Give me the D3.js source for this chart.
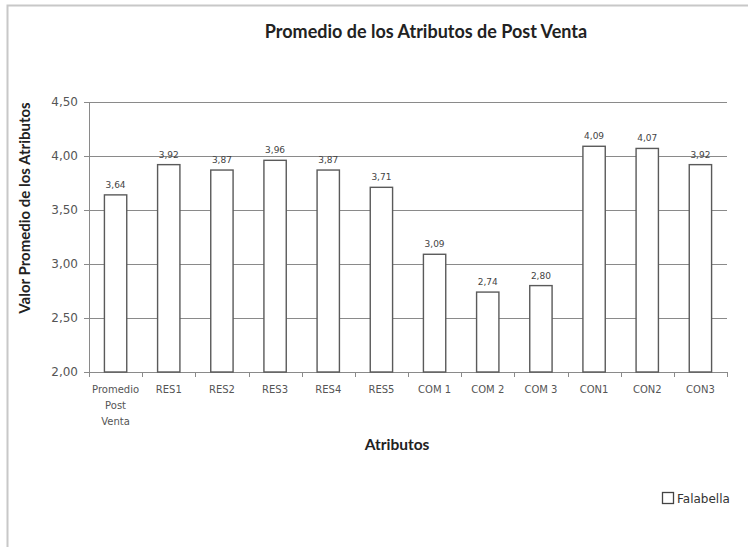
<!DOCTYPE html>
<html>
<head>
<meta charset="utf-8">
<script src="https://cdn.jsdelivr.net/npm/d3@7"></script>
<style>
  body { margin: 0; background: #fff; }
  svg { display: block; font-family: "DejaVu Sans", sans-serif; }
  .bold { font-family: Lato, "Open Sans", sans-serif; font-weight: bold; }
</style>
</head>
<body>
<div id="chart"></div>
<script>
var categories = ["Promedio Post Venta", "RES1", "RES2", "RES3", "RES4", "RES5",
    "COM 1", "COM 2", "COM 3", "CON1", "CON2", "CON3"];
var values = [3.64, 3.92, 3.87, 3.96, 3.87, 3.71, 3.09, 2.74, 2.80, 4.09, 4.07, 3.92];
var yTicks = [2.0, 2.5, 3.0, 3.5, 4.0, 4.5];
var seriesName = "Falabella";

var width = 748, height = 547;
var margin = { top: 102, right: 21, bottom: 175, left: 89 };
var innerW = width - margin.left - margin.right;
var innerH = height - margin.top - margin.bottom;

var fmt = function (v) { return d3.format(".2f")(v).replace(".", ","); };

var svg = d3.select("#chart").append("svg")
    .attr("width", width)
    .attr("height", height);

// chart frame
svg.append("rect")
    .attr("x", 7.5).attr("y", 5.5)
    .attr("width", width + 10).attr("height", height + 10)
    .attr("fill", "none")
    .attr("stroke", "#c8c8c8")
    .attr("stroke-width", 2);

var x = d3.scaleBand().domain(categories).range([0, innerW]).paddingInner(0.58).paddingOuter(0.29);
var y = d3.scaleLinear().domain([2, 4.5]).range([innerH, 0]);

var g = svg.append("g").attr("transform", "translate(" + margin.left + "," + margin.top + ")");

// gridlines
g.selectAll(".grid").data(yTicks).enter().append("line")
    .attr("x1", 0).attr("x2", innerW)
    .attr("y1", function (d) { return Math.round(y(d)) + 0.5; })
    .attr("y2", function (d) { return Math.round(y(d)) + 0.5; })
    .attr("stroke", "#8a8a8a")
    .attr("stroke-width", 1);

// y axis
var yAxis = g.append("g")
    .call(d3.axisLeft(y).tickValues(yTicks).tickFormat(fmt).tickSize(5).tickSizeOuter(0));
yAxis.select(".domain").attr("stroke", "#8a8a8a");
yAxis.selectAll(".tick line").attr("stroke", "#8a8a8a");
yAxis.selectAll(".tick text")
    .attr("x", -11)
    .attr("fill", "#555")
    .style("font-family", "DejaVu Sans, sans-serif")
    .style("font-size", "12px");

// x axis baseline + boundary ticks
var xg = g.append("g").attr("transform", "translate(0," + innerH + ")");
xg.append("line").attr("x1", 0).attr("x2", innerW).attr("y1", 0.5).attr("y2", 0.5)
    .attr("stroke", "#8a8a8a");
xg.selectAll(".bt").data(d3.range(categories.length + 1)).enter().append("line")
    .attr("x1", function (i) { return Math.round(i * innerW / categories.length) + 0.5; })
    .attr("x2", function (i) { return Math.round(i * innerW / categories.length) + 0.5; })
    .attr("y1", 0).attr("y2", 5)
    .attr("stroke", "#8a8a8a");

// category labels
var lbl = xg.selectAll(".cat").data(categories).enter().append("text")
    .attr("text-anchor", "middle")
    .attr("fill", "#555")
    .style("font-size", "10px")
    .attr("transform", function (d) { return "translate(" + (x(d) + x.bandwidth() / 2) + ",21)"; });
lbl.each(function (d) {
    var words = d === "Promedio Post Venta" ? d.split(" ") : [d];
    var t = d3.select(this);
    words.forEach(function (w, i) {
        t.append("tspan").attr("x", 0).attr("dy", i === 0 ? 0 : 16).text(w);
    });
});

// bars
g.selectAll(".bar").data(values).enter().append("rect")
    .attr("x", function (d, i) { return x(categories[i]); })
    .attr("y", function (d) { return y(d); })
    .attr("width", x.bandwidth())
    .attr("height", function (d) { return innerH - y(d); })
    .attr("fill", "#fff")
    .attr("stroke", "#5a5a5a")
    .attr("stroke-width", 1.4);

// value labels
g.selectAll(".val").data(values).enter().append("text")
    .attr("x", function (d, i) { return x(categories[i]) + x.bandwidth() / 2; })
    .attr("y", function (d) { return y(d) - 7; })
    .attr("text-anchor", "middle")
    .attr("fill", "#444")
    .style("font-size", "9px")
    .text(fmt);

// titles
svg.append("text")
    .attr("class", "bold")
    .attr("x", 426).attr("y", 38)
    .attr("text-anchor", "middle")
    .attr("fill", "#222")
    .style("font-size", "18px")
    .text("Promedio de los Atributos de Post Venta");

svg.append("text")
    .attr("class", "bold")
    .attr("x", 397).attr("y", 450)
    .attr("text-anchor", "middle")
    .attr("fill", "#222")
    .style("font-size", "15.5px")
    .text("Atributos");

svg.append("text")
    .attr("class", "bold")
    .attr("transform", "translate(30,208) rotate(-90)")
    .attr("text-anchor", "middle")
    .attr("fill", "#222")
    .style("font-size", "15px")
    .text("Valor Promedio de los Atributos");

// legend
var leg = svg.append("g").attr("transform", "translate(662,492)");
leg.append("rect").attr("x", 0.5).attr("y", 0.5).attr("width", 11).attr("height", 11)
    .attr("fill", "#fff").attr("stroke", "#444").attr("stroke-width", 1.3);
leg.append("text").attr("x", 15).attr("y", 10.5)
    .attr("fill", "#333")
    .style("font-size", "12px")
    .text(seriesName);
</script>
</body>
</html>
